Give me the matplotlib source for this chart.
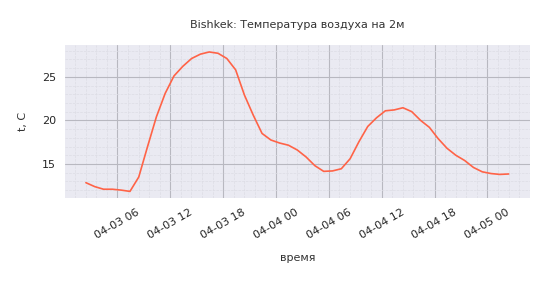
import matplotlib
matplotlib.use("Agg")
import matplotlib.pyplot as plt
import matplotlib.dates as mdates
from matplotlib.ticker import AutoMinorLocator
import numpy as np
import pandas as pd
import seaborn as sns

start_time = "2024-04-03 02:25"
temps = [12.85, 12.4, 12.1, 12.1, 12.0, 11.85, 13.5, 17.0, 20.4, 23.1,
         25.1, 26.2, 27.1, 27.6, 27.85, 27.7, 27.1, 25.8, 22.9, 20.6,
         18.5, 17.75, 17.4, 17.15, 16.6, 15.8, 14.8, 14.15, 14.2, 14.45,
         15.6, 17.55, 19.3, 20.3, 21.1, 21.2, 21.45, 21.0, 20.0, 19.2,
         17.9, 16.8, 16.0, 15.4, 14.6, 14.1, 13.9, 13.8, 13.85]
times = pd.date_range(start_time, periods=len(temps), freq="h")

sns.set_style("darkgrid")
plt.rcParams['font.family'] = ['DejaVu Sans']

fig = plt.figure(figsize=(5.49, 2.83), dpi=100)
ax = fig.add_axes([0.118, 0.299, 0.847, 0.542])
ax.plot(times, temps, color="tomato", lw=1.2)

ax.xaxis.set_major_locator(mdates.HourLocator(byhour=[0, 6, 12, 18]))
ax.xaxis.set_major_formatter(mdates.DateFormatter("%m-%d %H"))
ax.xaxis.set_minor_locator(AutoMinorLocator(5))
ax.yaxis.set_minor_locator(AutoMinorLocator(5))
ax.grid(which="major", color="#b8b8c0", lw=0.8)
ax.grid(which="minor", color="#dcdce4", lw=0.5, ls="--")
for lab in ax.get_xticklabels():
    lab.set_rotation(30)
    lab.set_ha("center")
ax.tick_params(axis="both", labelsize=8, pad=3)
ax.set_title("Bishkek: Температура воздуха на 2м", fontsize=8, color="#333333", pad=12.5)
ax.set_xlabel("время", fontsize=8, color="#333333", labelpad=8.5)
ax.set_ylabel("t, C", fontsize=8, color="#333333", labelpad=10)
for s in ax.spines.values():
    s.set_visible(False)

fig.savefig("out.png", dpi=100)
